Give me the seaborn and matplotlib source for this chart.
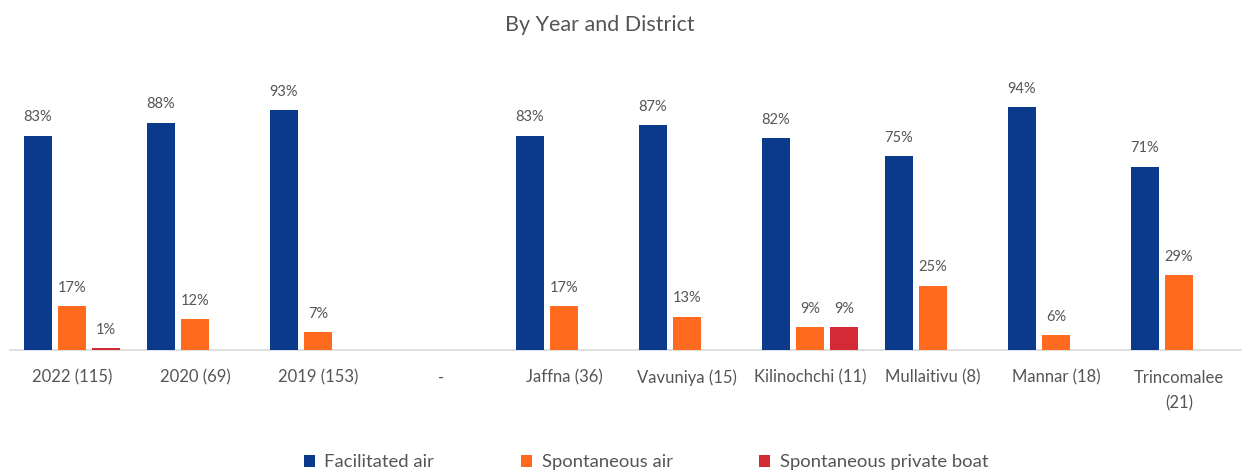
import numpy as np
import pandas as pd
import matplotlib.pyplot as plt
import seaborn as sns

# Chart data
categories = ['2022 (115)', '2020 (69)', '2019 (153)', '-', 'Jaffna (36)', 'Vavuniya (15)',
              'Kilinochchi (11)', 'Mullaitivu (8)', 'Mannar (18)', 'Trincomalee\n(21)']
series = ['Facilitated air', 'Spontaneous air', 'Spontaneous private boat']
facilitated_air = [83, 88, 93, np.nan, 83, 87, 82, 75, 94, 71]
spontaneous_air = [17, 12, 7, np.nan, 17, 13, 9, 25, 6, 29]
private_boat = [1, 0, 0, np.nan, 0, 0, 9, 0, 0, 0]

colors = ['#0B3A8D', '#FF6A1E', '#D42A36']

df = pd.DataFrame({
    'Category': categories * 3,
    'Mode': [series[0]] * 10 + [series[1]] * 10 + [series[2]] * 10,
    'Value': facilitated_air + spontaneous_air + private_boat,
})

sns.set_theme(style='white')
plt.rcParams['font.family'] = ['Lato', 'DejaVu Sans']
text_color = '#555555'

fig = plt.figure(figsize=(12.45, 4.72), dpi=100)
ax = fig.add_axes([0.0084, 0.258, 0.988, 0.548])

sns.barplot(data=df, x='Category', y='Value', hue='Mode', order=categories,
            hue_order=series, palette=colors, width=0.83, gap=0.18,
            saturation=1, linewidth=0, ax=ax, legend=True, zorder=3)

# Value labels above bars (skip empty / zero)
for container in ax.containers:
    labels = []
    for v in container.datavalues:
        labels.append('' if (np.isnan(v) or v == 0) else f'{v:.0f}%')
    ax.bar_label(container, labels=labels, padding=8, fontsize=10.5, color=text_color)

ax.set_xlim(-0.5, len(categories) - 0.5)
ax.set_ylim(0, 100)
ax.set_xlabel('')
ax.set_ylabel('')
ax.set_yticks([])
for s in ['top', 'right', 'left']:
    ax.spines[s].set_visible(False)
ax.spines['bottom'].set_color('#D9D9D9')
ax.spines['bottom'].set_linewidth(1.2)
ax.spines['bottom'].set_zorder(1)
ax.tick_params(axis='x', length=0, pad=14, labelsize=12, labelcolor=text_color)
for lbl in ax.get_xticklabels():
    lbl.set_linespacing(1.7)

fig.suptitle('By Year and District', x=0.482, y=0.968, fontsize=15.5, color=text_color)

handles, labels = ax.get_legend_handles_labels()
ax.legend_.remove()
fig.legend(handles, labels, loc='lower center', bbox_to_anchor=(0.519, -0.032), ncol=3,
           frameon=False, fontsize=13.3, handlelength=0.6, handleheight=0.6,
           columnspacing=4.7, handletextpad=0.5, labelcolor=text_color)

fig.savefig('out.png', dpi=100)
